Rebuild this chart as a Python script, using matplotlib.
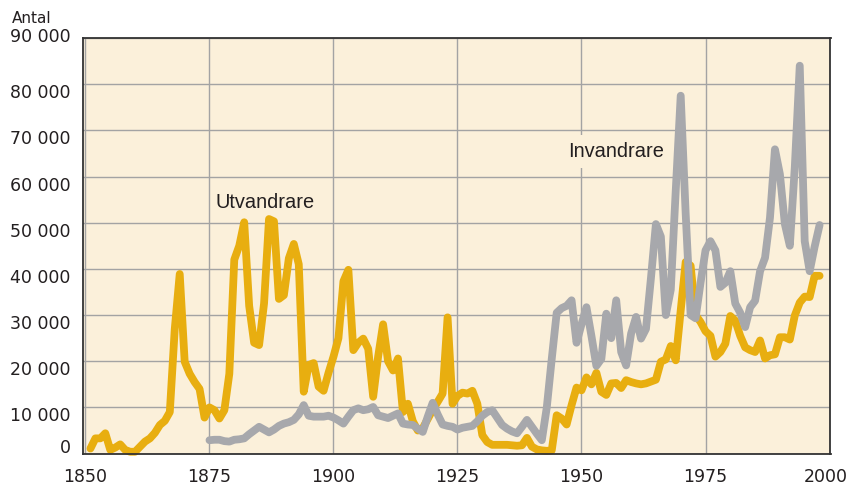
import matplotlib
matplotlib.use("Agg")
import matplotlib.pyplot as plt
from matplotlib.transforms import ScaledTranslation

# ---------------- data ----------------
years_utv = list(range(1851, 1999))
utvandrare = [
    1100, 3300, 3300, 4400, 800, 1300, 2000, 800, 400, 400,            # 1851-1860
    1500, 2600, 3300, 4500, 6200, 7100, 9000, 27000, 38900, 19900,     # 1861-1870
    17300, 15500, 14000, 7800, 10000, 9400, 7600, 9400, 17300, 42000,  # 1871-1880
    45000, 50100, 32000, 24000, 23500, 32500, 50800, 50300, 33500, 34300,  # 1881-1890
    42300, 45400, 41000, 13400, 19200, 19600, 14500, 13600, 17500, 21000,  # 1891-1900
    25000, 37300, 39800, 22400, 24000, 24900, 22700, 12300, 21000, 28000,  # 1901-1910
    20000, 18000, 20600, 9000, 10800, 7000, 5000, 5500, 7500, 9500,    # 1911-1920
    11200, 13000, 29500, 10800, 12500, 13200, 13000, 13600, 10800, 4000,  # 1921-1930
    2500, 1900, 1900, 1900, 1900, 1800, 1700, 1800, 3400, 1500,        # 1931-1940
    900, 700, 600, 700, 8300, 7600, 6300, 10500, 14300, 13700,         # 1941-1950
    16500, 15000, 17500, 13400, 12700, 15200, 15300, 14200, 15900, 15500,  # 1951-1960
    15200, 15000, 15200, 15600, 16000, 19900, 20400, 23300, 20200, 31000,  # 1961-1970
    41500, 40700, 30000, 28500, 26500, 25500, 21000, 22000, 23800, 29800,  # 1971-1980
    28800, 25500, 23000, 22400, 22000, 24500, 20600, 21300, 21500, 25200,  # 1981-1990
    25200, 24700, 29900, 32700, 34000, 33900, 38500, 38500,            # 1991-1998
]

years_inv = list(range(1875, 1999))
invandrare = [
    2900, 3000, 3000, 2700, 2600, 3000,                                # 1875-1880
    3100, 3300, 4200, 5000, 5800, 5200, 4600, 5200, 6000, 6500,        # 1881-1890
    6800, 7300, 8500, 10500, 8200, 8000, 8000, 8000, 8200, 7800,       # 1891-1900
    7200, 6500, 8000, 9400, 9800, 9400, 9600, 10100, 8300, 8000,       # 1901-1910
    7700, 8200, 8700, 6500, 6300, 6200, 5400, 4700, 8000, 11000,       # 1911-1920
    8500, 6300, 6000, 5800, 5200, 5600, 5800, 6000, 7000, 8200,        # 1921-1930
    9000, 9400, 7800, 6200, 5400, 4800, 4400, 5800, 7300, 5800,        # 1931-1940
    4300, 2900, 10000, 20500, 30500, 31500, 32000, 33200, 24000, 28000,  # 1941-1950
    31700, 25500, 19000, 20500, 30300, 25000, 33200, 22000, 19100, 26000,  # 1951-1960
    29600, 24900, 27000, 38000, 49700, 47000, 30000, 35500, 57000, 77500,  # 1961-1970
    52000, 30000, 29300, 37000, 44000, 46000, 44000, 36100, 37000, 39500,  # 1971-1980
    32500, 30500, 27400, 31700, 33100, 39500, 42400, 51100, 65900, 60500,  # 1981-1990
    49700, 45000, 62000, 84000, 46000, 39500, 44800, 49500,            # 1991-1998
]

x_ticks = [1850, 1875, 1900, 1925, 1950, 1975, 2000]
y_ticks = [0, 10000, 20000, 30000, 40000, 50000, 60000, 70000, 80000, 90000]
y_labels = ["0", "10 000", "20 000", "30 000", "40 000", "50 000",
            "60 000", "70 000", "80 000", "90 000"]

# ---------------- style ----------------
bg = "#FBF0DA"
yellow = "#E8AE10"
grey = "#A7A8AC"
gridc = "#A3A3A3"
textc = "#231F20"

fig = plt.figure(figsize=(8.53, 4.86), dpi=100)
ax = fig.add_axes([83 / 853, 1 - 453.6 / 486, (830.5 - 83) / 853, (453.6 - 38) / 486])
ax.set_facecolor(bg)

ax.plot(years_utv, utvandrare, color=yellow, lw=5.6, solid_joinstyle="round",
        solid_capstyle="round", zorder=3, clip_on=False)
ax.plot(years_inv, invandrare, color=grey, lw=5.6, solid_joinstyle="round",
        solid_capstyle="round", zorder=4, clip_on=False)

ax.set_xlim(1849.5, 2000.2)
ax.set_ylim(0, 90000)
ax.set_xticks(x_ticks)
ax.set_xticklabels([str(v) for v in x_ticks])
ax.set_yticks(y_ticks)
ax.set_yticklabels(y_labels)
ax.grid(True, color=gridc, lw=1.0, zorder=1)
ax.set_axisbelow(True)

for s in ax.spines.values():
    s.set_color("#333333")
    s.set_linewidth(1.3)
    s.set_zorder(5)

ax.tick_params(axis="both", length=0, labelsize=12.5, colors=textc)
ax.tick_params(axis="y", pad=9)
ax.tick_params(axis="x", pad=10.5)
for lab in ax.get_xticklabels() + ax.get_yticklabels():
    lab.set_fontfamily("DejaVu Sans")

# quirky vertical offsets of the y labels in the original
for lab, v in zip(ax.get_yticklabels(), y_ticks):
    if v == 0:
        dy = 8.0
    elif v == 90000:
        dy = 2.5
    else:
        dy = -7.0
    lab.set_transform(lab.get_transform() + ScaledTranslation(0, dy / 100, fig.dpi_scale_trans))
xl = ax.get_xticklabels()
xl[-1].set_transform(xl[-1].get_transform() + ScaledTranslation(-3.5 / 100, 0, fig.dpi_scale_trans))

ax.text(1876.3, 53200, "Utvandrare", fontsize=14.4, family="Liberation Sans",
        color=textc, ha="left", va="baseline", zorder=6)
ax.text(1947.3, 64300, "Invandrare", fontsize=14.4, family="Liberation Sans",
        color=textc, ha="left", va="baseline", zorder=6,
        bbox=dict(facecolor=bg, edgecolor="none", pad=5))

fig.text(12 / 853, 1 - 23.3 / 486, "Antal", fontsize=11, family="DejaVu Sans",
         color=textc, ha="left", va="baseline")

fig.savefig("out.png", dpi=100, facecolor="white")
